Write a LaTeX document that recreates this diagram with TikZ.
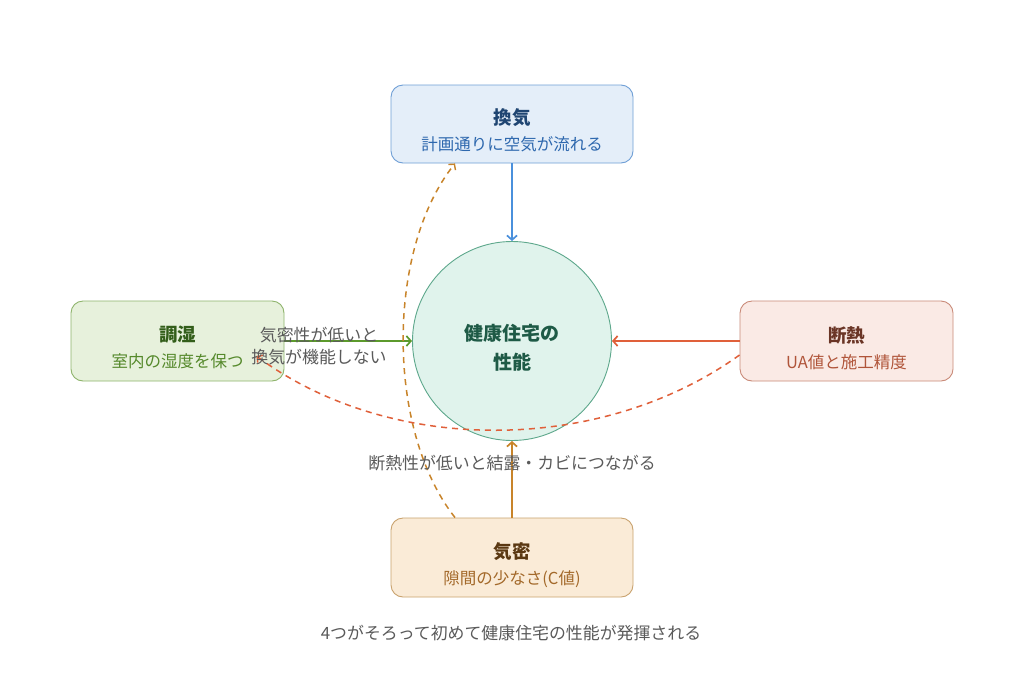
\documentclass[tikz,border=0pt]{standalone}
\usepackage{fontspec}
\setmainfont{Noto Sans CJK JP}
\usetikzlibrary{arrows.meta,calc}
\definecolor{kbfill}{HTML}{E4EEF9}
\definecolor{kbdraw}{HTML}{6F9FD6}
\definecolor{kbtitle}{HTML}{1F4572}
\definecolor{kbsub}{HTML}{2E68AE}
\definecolor{kbarrow}{HTML}{4A90DC}
\definecolor{cgfill}{HTML}{E7F1DC}
\definecolor{cgdraw}{HTML}{8FB46C}
\definecolor{cgtitle}{HTML}{335E1A}
\definecolor{cgsub}{HTML}{55892B}
\definecolor{cgarrow}{HTML}{5C9A2C}
\definecolor{dnfill}{HTML}{FAEAE5}
\definecolor{dndraw}{HTML}{C98A78}
\definecolor{dntitle}{HTML}{6A3526}
\definecolor{dnsub}{HTML}{B0553A}
\definecolor{dnarrow}{HTML}{E0603A}
\definecolor{kmfill}{HTML}{FAEBD7}
\definecolor{kmdraw}{HTML}{C9A26E}
\definecolor{kmtitle}{HTML}{5A3812}
\definecolor{kmsub}{HTML}{A3692A}
\definecolor{kmarrow}{HTML}{C8842A}
\definecolor{corefill}{HTML}{E0F3EC}
\definecolor{coredraw}{HTML}{5EA88C}
\definecolor{coretext}{HTML}{1E5A46}
\definecolor{labelgray}{HTML}{5A5A5A}
\tikzset{
  card/.style={rounded corners=12pt, line width=0.9pt, minimum width=242pt, minimum height=78pt, inner sep=0pt},
  sidecard/.style={card, minimum width=213pt, minimum height=80pt},
  cardtext/.style={align=center, inner sep=0pt, font=\fontsize{16.5}{26}\selectfont},
  flowarrow/.style={line width=2pt, -{Straight Barb[length=4.5pt,width=10pt,line width=1.7pt]}},
  dasharrow/.style={line width=1.5pt, dash pattern=on 6pt off 5pt, -{Straight Barb[length=4pt,width=9pt,line width=1.4pt]}},
  note/.style={text=labelgray, font=\fontsize{16.9}{22}\selectfont, align=center, inner sep=0pt},
}
\newcommand{\cardtitle}[2]{{\fontsize{18.5}{26}\selectfont\bfseries\color{#1}#2}}
\begin{document}
\begin{tikzpicture}[x=1pt,y=-1pt]
\useasboundingbox (0,0) rectangle (1024,683);
\fill[white] (0,0) rectangle (1024,683);

\node[card, fill=kbfill, draw=kbdraw] (kanki) at (512,124) {};
\node[sidecard, fill=cgfill, draw=cgdraw] (chs) at (177.5,341) {};
\node[sidecard, fill=dnfill, draw=dndraw] (dannetsu) at (846.5,341) {};
\node[card, fill=kmfill, draw=kmdraw, minimum height=79pt] (kimitsu) at (512,557.5) {};
\node[circle, minimum size=199pt, fill=corefill, draw=coredraw, line width=0.9pt, inner sep=0pt] (core) at (512,341) {};

\node[cardtext] (kanki-text) at ([yshift=-6pt]kanki.center)
  {\cardtitle{kbtitle}{換気}\\{\color{kbsub}計画通りに空気が流れる}};
\node[cardtext] (chs-text) at ([yshift=-6pt]chs.center)
  {\cardtitle{cgtitle}{調湿}\\{\color{cgsub}室内の湿度を保つ}};
\node[cardtext] (dannetsu-text) at ([yshift=-7pt]dannetsu.center)
  {\cardtitle{dntitle}{断熱}\\{\color{dnsub}UA値と施工精度}};
\node[cardtext] (kimitsu-text) at ([yshift=-7.5pt]kimitsu.center)
  {\cardtitle{kmtitle}{気密}\\{\color{kmsub}隙間の少なさ(C値)}};
\node[align=center, inner sep=0pt, text=coretext, font=\fontsize{19}{29}\selectfont\bfseries] (core-text)
  at ([yshift=-7pt]core.center) {健康住宅の\\性能};

\draw[flowarrow, kbarrow] (kanki.south) -- (core.north);
\draw[flowarrow, dnarrow] (dannetsu.west) -- (core.east);
\draw[flowarrow, cgarrow] (chs.east) -- (core.west);
\draw[flowarrow, kmarrow] (kimitsu.north) -- (core.south);

\draw[dasharrow, kmarrow] ([xshift=-57pt]kimitsu.north) .. controls (386,430) and (386,250) .. ([xshift=-57pt]kanki.south);
\draw[dasharrow, dnarrow] ([yshift=-14pt]dannetsu.west) .. controls (600,455) and (390,455) .. ([xshift=-28pt,yshift=-15pt]chs.east);

\node[note] (lbl1) at (319,346) {気密性が低いと\\換気が機能しない};
\node[note] (lbl2) at (512,463) {断熱性が低いと結露・カビにつながる};
\node[note] (summary) at (511,633.5) {4つがそろって初めて健康住宅の性能が発揮される};
\end{tikzpicture}
\end{document}
